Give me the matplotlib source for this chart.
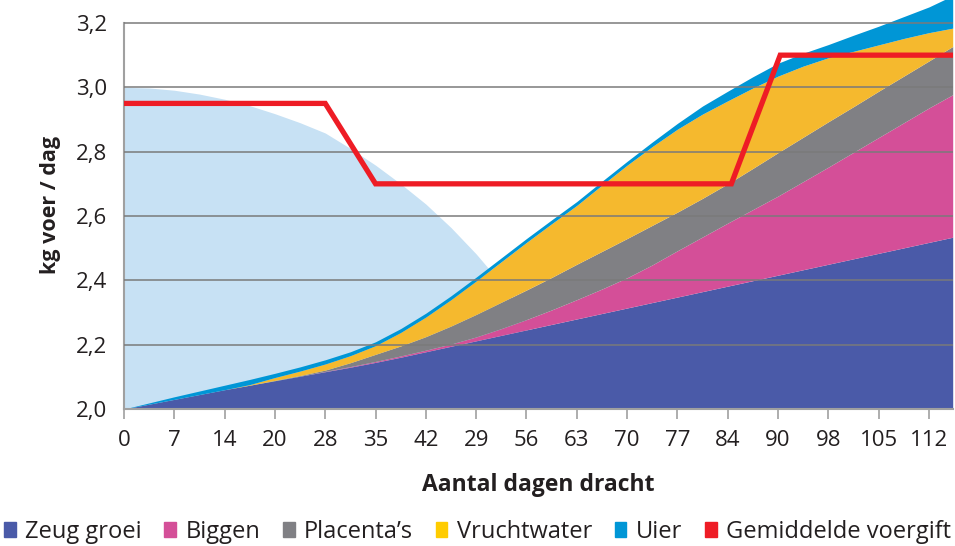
import matplotlib
matplotlib.use("Agg")
import matplotlib.pyplot as plt
from matplotlib.patches import Patch
import numpy as np

plt.rcParams["font.family"] = ["Open Sans", "DejaVu Sans"]

# dagen dracht (posities op de as) en de labels zoals ze in de grafiek staan
dagen = [0, 3.5, 7, 10.5, 14, 17.5, 21, 24.5, 28, 31.5, 35, 38.5, 42, 45.5, 49, 52.5,
         56, 59.5, 63, 66.5, 70, 73.5, 77, 80.5, 84, 87.5, 91, 94.5, 98, 101.5, 105,
         108.5, 112, 115.3]
tick_posities = [0, 7, 14, 21, 28, 35, 42, 49, 56, 63, 70, 77, 84, 91, 98, 105, 112]
tick_labels = ["0", "7", "14", "20", "28", "35", "42", "29", "56", "63", "70",
               "77", "84", "90", "98", "105", "112"]

# bovenkant van elke laag (gestapeld, kg voer / dag)
zeug_groei = [2.000, 2.015, 2.030, 2.045, 2.060, 2.074, 2.088, 2.102, 2.116, 2.130,
              2.145, 2.161, 2.178, 2.195, 2.212, 2.229, 2.246, 2.263, 2.280, 2.297,
              2.314, 2.331, 2.348, 2.365, 2.382, 2.399, 2.416, 2.433, 2.450, 2.467,
              2.484, 2.501, 2.518, 2.534]
biggen = [2.000, 2.015, 2.030, 2.045, 2.060, 2.074, 2.088, 2.102, 2.117, 2.132,
          2.148, 2.165, 2.183, 2.202, 2.224, 2.250, 2.278, 2.308, 2.340, 2.373,
          2.408, 2.448, 2.492, 2.535, 2.578, 2.620, 2.662, 2.707, 2.752, 2.798,
          2.844, 2.890, 2.936, 2.977]
placentas = [2.000, 2.015, 2.030, 2.045, 2.060, 2.074, 2.089, 2.104, 2.121, 2.144,
             2.170, 2.196, 2.225, 2.258, 2.294, 2.332, 2.370, 2.409, 2.450, 2.490,
             2.530, 2.571, 2.612, 2.655, 2.700, 2.748, 2.797, 2.845, 2.893, 2.940,
             2.988, 3.035, 3.082, 3.127]
vruchtwater = [2.000, 2.015, 2.030, 2.045, 2.060, 2.076, 2.098, 2.118, 2.140, 2.166,
               2.197, 2.238, 2.286, 2.340, 2.398, 2.458, 2.518, 2.576, 2.633, 2.696,
               2.758, 2.816, 2.870, 2.917, 2.958, 2.998, 3.035, 3.066, 3.092, 3.112,
               3.132, 3.152, 3.170, 3.184]
uier = [2.000, 2.019, 2.038, 2.056, 2.074, 2.092, 2.111, 2.131, 2.153, 2.178,
        2.209, 2.250, 2.298, 2.352, 2.410, 2.470, 2.530, 2.588, 2.645, 2.708,
        2.770, 2.830, 2.888, 2.942, 2.988, 3.033, 3.075, 3.106, 3.133, 3.162,
        3.190, 3.220, 3.250, 3.285]

# lichtblauwe achtergrond (onderhoud)
onderhoud_dagen = [0, 3.5, 7, 10.5, 14, 17.5, 21, 24.5, 28, 31.5, 35, 38.5, 42, 45.5,
                   49, 52.5, 56]
onderhoud = [3.000, 2.998, 2.991, 2.979, 2.963, 2.943, 2.918, 2.890, 2.858, 2.810,
             2.758, 2.700, 2.637, 2.564, 2.482, 2.390, 2.283]

# gemiddelde voergift
voer_dagen = [0, 28, 35, 84.5, 91.3, 115.3]
voergift = [2.95, 2.95, 2.70, 2.70, 3.10, 3.10]

y_ticks = [2.0, 2.2, 2.4, 2.6, 2.8, 3.0, 3.2]

kleuren = {
    "zeug": "#4A5AA8",
    "biggen": "#D44F98",
    "placenta": "#808084",
    "vrucht": "#F5B92E",
    "uier": "#0096D6",
    "rood": "#EE1C25",
    "licht": "#C7E1F4",
}

fig = plt.figure(figsize=(9.55, 5.46), dpi=100)
ax = fig.add_axes([124 / 955, 137 / 546, (952.7 - 124) / 955, 409 / 546])

ax.fill_between(onderhoud_dagen, 2.0, onderhoud, color=kleuren["licht"], lw=0, zorder=1)

lagen = [(2.0, zeug_groei, "zeug"), (zeug_groei, biggen, "biggen"),
         (biggen, placentas, "placenta"), (placentas, vruchtwater, "vrucht"),
         (vruchtwater, uier, "uier")]
for onder, boven, k in lagen:
    ax.fill_between(dagen, onder, boven, color=kleuren[k], lw=0, zorder=1.2)

ax.plot(voer_dagen, voergift, color=kleuren["rood"], lw=3.8, zorder=4,
        solid_joinstyle="miter")

ax.set_xlim(0, 115.3)
ax.set_ylim(2.0, 3.2715)
ax.set_yticks(y_ticks)
ax.set_yticklabels([f"{v:.1f}".replace(".", ",") for v in y_ticks])
ax.set_xticks(tick_posities)
ax.set_xticklabels(tick_labels)

for v in y_ticks:
    ax.axhline(v, color="#7A7A7A", lw=1.1, zorder=3)

for s in ["top", "right"]:
    ax.spines[s].set_visible(False)
ax.spines["left"].set_bounds(2.0, 3.2)
ax.spines["left"].set_color("#A0A0A0")
ax.spines["left"].set_linewidth(1.5)
ax.spines["bottom"].set_color("#A0A0A0")
ax.spines["bottom"].set_linewidth(1.5)
ax.spines["bottom"].set_zorder(5)

ax.tick_params(axis="y", length=0, pad=12, labelsize=16, colors="#231F20")
ax.tick_params(axis="x", length=7, width=1.2, color="#A0A0A0", pad=8,
               labelsize=16, labelcolor="#231F20")

ax.set_xlabel("Aantal dagen dracht", fontsize=16.5, fontweight="bold", color="#231F20",
              labelpad=16)
ax.set_ylabel("kg voer / dag", fontsize=15.5, fontweight="bold", color="#231F20",
              labelpad=11)

handles = [Patch(color=kleuren["zeug"]), Patch(color=kleuren["biggen"]),
           Patch(color=kleuren["placenta"]), Patch(color="#FFCC00"),
           Patch(color=kleuren["uier"]), Patch(color=kleuren["rood"])]
labels = ["Zeug groei", "Biggen", "Placenta\u2019s", "Vruchtwater", "Uier",
          "Gemiddelde voergift"]
fig.legend(handles, labels, loc="lower center", bbox_to_anchor=(0.5, -0.035), ncol=6,
           frameon=False, fontsize=17, handlelength=0.5, handleheight=0.65,
           handletextpad=0.4, columnspacing=0.95, labelcolor="#231F20")

fig.savefig("out.png", dpi=100)
